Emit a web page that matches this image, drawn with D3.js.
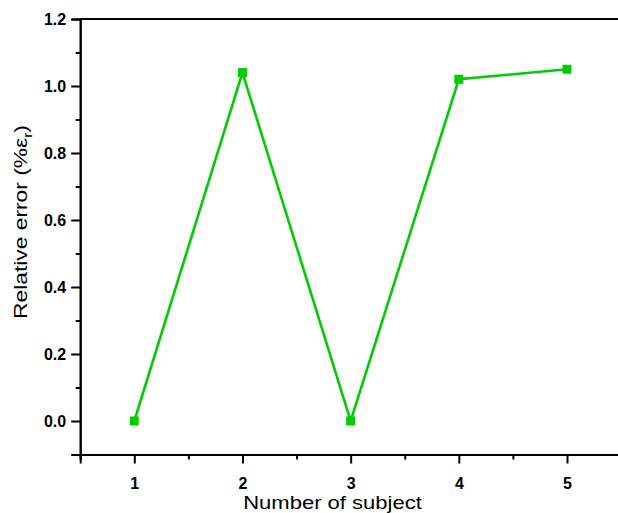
<!DOCTYPE html>
<html><head><meta charset="utf-8">
<script src="https://cdn.jsdelivr.net/npm/d3@7"></script>
<style>body{margin:0;background:#fff}svg{display:block}</style>
</head><body>
<script>
const subjects = [1, 2, 3, 4, 5];
const relErr = [0.0, 1.04, 0.0, 1.02, 1.05];
const yTicks = [0.0, 0.2, 0.4, 0.6, 0.8, 1.0, 1.2];
const yMinor = [-0.1, 0.1, 0.3, 0.5, 0.7, 0.9, 1.1];
const xMinor = [0.5, 1.5, 2.5, 3.5, 4.5, 5.5];

const W = 618, H = 513;
const svg = d3.select("body").append("svg").attr("width", W).attr("height", H);
const x = d3.scaleLinear().domain([0.5, 5.5]).range([80.2, 621.1]);
const y = d3.scaleLinear().domain([-0.1, 1.2]).range([454.5, 19]);
const font = "Liberation Sans, Arial, sans-serif";
const col = "#00cc00";

// top frame line
svg.append("line").attr("x1", x(0.5)).attr("x2", x(5.5)).attr("y1", y(1.2)).attr("y2", y(1.2))
  .attr("stroke", "#000").attr("stroke-width", 2);

// y axis
const gy = svg.append("g").attr("transform", `translate(${x(0.5)},0)`);
gy.call(d3.axisLeft(y).tickValues(yTicks).tickFormat(d3.format(".1f")).tickSize(9).tickPadding(5));
gy.append("g").call(d3.axisLeft(y).tickValues(yMinor).tickFormat("").tickSize(4.5));
gy.selectAll("path").attr("stroke-width", 2);
gy.selectAll("line").attr("stroke-width", 2);
gy.selectAll("text").attr("font-family", font).attr("font-size", 16).attr("font-weight", "bold").attr("fill", "#000");

// x axis
const gx = svg.append("g").attr("transform", `translate(0,${y(-0.1)})`);
gx.call(d3.axisBottom(x).tickValues(subjects).tickFormat(d3.format("d")).tickSize(9).tickPadding(14));
gx.append("g").call(d3.axisBottom(x).tickValues(xMinor).tickFormat("").tickSize(5));
gx.selectAll("path").attr("stroke-width", 2);
gx.selectAll("line").attr("stroke-width", 2);
gx.selectAll("text").attr("font-family", font).attr("font-size", 16).attr("font-weight", "bold").attr("fill", "#000");

// line
const data = subjects.map((s, i) => ({s, v: relErr[i]}));
svg.append("path").datum(data)
  .attr("d", d3.line().x(d => x(d.s)).y(d => y(d.v)))
  .attr("fill", "none").attr("stroke", col).attr("stroke-width", 2.6);

svg.selectAll("rect.m").data(data).enter().append("rect")
  .attr("class", "m")
  .attr("x", d => x(d.s) - 4.5).attr("y", d => y(d.v) - 4.5)
  .attr("width", 9).attr("height", 9).attr("fill", col);

// titles
svg.append("text").attr("transform", "translate(332.5,509) scale(1.19,1)").attr("text-anchor", "middle")
  .attr("font-family", font).attr("font-size", 18.5).text("Number of subject");

const yt = svg.append("text").attr("transform", "translate(27,222) rotate(-90) scale(1.2,1)")
  .attr("text-anchor", "middle").attr("font-family", font).attr("font-size", 19);
yt.append("tspan").text("Relative error (%ε");
yt.append("tspan").attr("font-size", 13).attr("dy", 5).text("r");
yt.append("tspan").attr("dy", -5).text(")");
</script>
</body></html>
